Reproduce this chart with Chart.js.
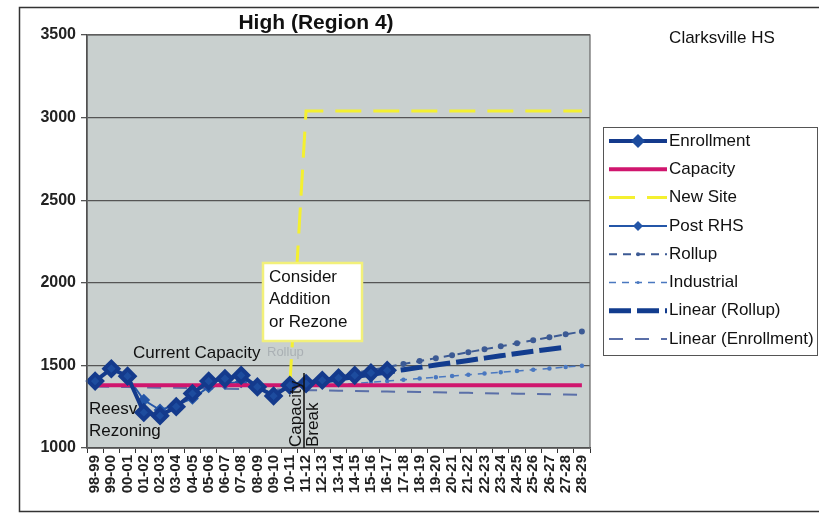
<!DOCTYPE html>
<html>
<head>
<meta charset="utf-8">
<script src="https://cdn.jsdelivr.net/npm/chart.js@4.4.0/dist/chart.umd.min.js"></script>
<style>
  html, body { margin: 0; padding: 0; background: #fff; }
  #wrap { width: 819px; height: 514px; }
</style>
</head>
<body>
<div id="wrap"><canvas id="chart" width="819" height="514"></canvas></div>
<script>
let years = ["98-99","99-00","00-01","01-02","02-03","03-04","04-05","05-06","06-07","07-08",
  "08-09","09-10","10-11","11-12","12-13","13-14","14-15","15-16","16-17","17-18",
  "18-19","19-20","20-21","21-22","22-23","23-24","24-25","25-26","26-27","27-28","28-29"];
let yTicks = [1000, 1500, 2000, 2500, 3000, 3500];

let enrollment = [1405,1480,1435,1215,1195,1250,1330,1405,1420,1440,1370,1315,1380,1390,1410,1425,1440,1455,1470,
  null,null,null,null,null,null,null,null,null,null,null,null];
let capacity = [1380,1380,1380,1380,1380,1380,1380,1380,1380,1380,1380,1380,1380,1380,1380,1380,
  1380,1380,1380,1380,1380,1380,1380,1380,1380,1380,1380,1380,1380,1380,1380];
let newSite = [null,null,null,null,null,null,null,null,null,null,null,null,1380,3040,3040,3040,
  3040,3040,3040,3040,3040,3040,3040,3040,3040,3040,3040,3040,3040,3040,3040];
let postRHS = [null,null,1430,1290,1230,1260,1300,1370,1390,1400,1360,1330,1370,1385,
  null,null,null,null,null,null,null,null,null,null,null,null,null,null,null,null,null];
let rollup = [null,null,null,null,null,null,null,null,null,null,null,null,null,1400,1418,1436,
  1454,1472,1490,1508,1526,1544,1562,1580,1598,1616,1634,1652,1670,1688,1705];
let industrial = [null,null,null,null,null,null,null,null,null,null,null,null,null,null,1375,1383,
  1390,1398,1405,1413,1420,1428,1436,1443,1451,1458,1466,1474,1481,1490,1498];
let linRollup = [null,null,null,null,null,null,null,null,null,null,null,null,1375,1390,1404,1418,
  1432,1446,1460,1474,1488,1502,1516,1530,1544,1558,1572,1586,1598,1610,null];
let linEnrollment = [1372,1370,1369,1367,1365,1364,1362,1360,1359,1357,1355,1354,1352,1350,1349,1347,
  1345,1344,1342,1340,1339,1337,1335,1334,1332,1330,1329,1327,1325,1324,1322];

const FONT = "'Liberation Sans', Arial, sans-serif";

// background of plot, frame, texts, legend
const decor = {
  id: "decor",
  beforeDraw(chart) {
    let {ctx, chartArea: a} = chart;
    ctx.save();
    ctx.fillStyle = "#fff";
    ctx.fillRect(0, 0, chart.width, chart.height);
    ctx.fillStyle = "#c9d0cf";
    ctx.fillRect(a.left, a.top, a.right - a.left, a.bottom - a.top);
    ctx.restore();
  },
  afterDraw(chart) {
    let {ctx, chartArea: a} = chart;
    ctx.save();
    // plot border
    ctx.strokeStyle = "#666";
    ctx.lineWidth = 1.2;
    ctx.strokeRect(a.left, a.top, a.right - a.left, a.bottom - a.top);
    // outer frame
    ctx.strokeStyle = "#333";
    ctx.lineWidth = 1.5;
    ctx.strokeRect(19.5, 7.5, 830, 504);

    // title
    ctx.fillStyle = "#111";
    ctx.textAlign = "center";
    ctx.textBaseline = "middle";
    ctx.font = "bold 21px " + FONT;
    ctx.fillText("High (Region 4)", 316, 23);
    ctx.font = "17px " + FONT;
    ctx.fillText("Clarksville HS", 722, 38);

    // callout box
    ctx.fillStyle = "#fff";
    ctx.fillRect(263, 263, 99, 78);
    ctx.strokeStyle = "#f2f07a";
    ctx.lineWidth = 2.5;
    ctx.strokeRect(263, 263, 99, 78);
    ctx.fillStyle = "#111";
    ctx.textAlign = "left";
    ctx.font = "17px " + FONT;
    ctx.fillText("Consider", 269, 277);
    ctx.fillText("Addition", 269, 299);
    ctx.fillText("or Rezone", 269, 322);

    // annotations
    ctx.fillText("Current Capacity", 133, 353);
    ctx.fillStyle = "#aab0b4";
    ctx.font = "13px " + FONT;
    ctx.fillText("Rollup", 267, 352);
    ctx.fillStyle = "#111";
    ctx.font = "17px " + FONT;
    ctx.fillText("Reesv", 89, 409);
    ctx.fillText("Rezoning", 89, 431);

    // capacity break marker
    ctx.strokeStyle = "#111";
    ctx.lineWidth = 1.5;
    ctx.beginPath();
    ctx.moveTo(304, 373);
    ctx.lineTo(304, 448);
    ctx.stroke();
    ctx.font = "17px " + FONT;
    ctx.save();
    ctx.translate(296, 447);
    ctx.rotate(-Math.PI / 2);
    ctx.textBaseline = "middle";
    ctx.fillText("Capacity", 0, 0);
    ctx.restore();
    ctx.save();
    ctx.translate(313, 447);
    ctx.rotate(-Math.PI / 2);
    ctx.textBaseline = "middle";
    ctx.fillText("Break", 0, 0);
    ctx.restore();

    // legend
    ctx.fillStyle = "#fff";
    ctx.fillRect(603, 127, 214, 228);
    ctx.strokeStyle = "#555";
    ctx.lineWidth = 1;
    ctx.strokeRect(603.5, 127.5, 214, 228);
    chart.data.datasets.forEach((ds, i) => {
      let y = 141 + i * 28.3;
      ctx.strokeStyle = ds.borderColor;
      ctx.lineWidth = ds.borderWidth;
      ctx.setLineDash(ds.borderDash || []);
      ctx.beginPath();
      ctx.moveTo(609, y);
      ctx.lineTo(667, y);
      ctx.stroke();
      ctx.setLineDash([]);
      if (ds.pointRadius > 0) {
        let r = ds.pointRadius;
        ctx.fillStyle = ds.pointBackgroundColor;
        ctx.beginPath();
        if (ds.pointStyle === "rectRot") {
          ctx.moveTo(638, y - r); ctx.lineTo(638 + r, y); ctx.lineTo(638, y + r); ctx.lineTo(638 - r, y);
          ctx.closePath();
        } else {
          ctx.arc(638, y, r, 0, Math.PI * 2);
        }
        ctx.fill();
      }
      ctx.fillStyle = "#111";
      ctx.font = "17px " + FONT;
      ctx.textAlign = "left";
      ctx.textBaseline = "middle";
      ctx.fillText(ds.label, 669, y);
    });
    ctx.restore();
  }
};

new Chart("chart", {
  type: "line",
  data: {
    labels: years,
    datasets: [
      { label: "Enrollment", data: enrollment, borderColor: "#143a8c", borderWidth: 4,
        pointStyle: "rectRot", pointRadius: 7, pointBackgroundColor: "#1d4c9e", pointBorderColor: "#143a8c" },
      { label: "Capacity", data: capacity, borderColor: "#d0166e", borderWidth: 4, pointRadius: 0 },
      { label: "New Site", data: newSite, borderColor: "#f4f030", borderWidth: 3, borderDash: [26, 12], pointRadius: 0 },
      { label: "Post RHS", data: postRHS, borderColor: "#2456a8", borderWidth: 2,
        pointStyle: "rectRot", pointRadius: 5, pointBackgroundColor: "#2456a8", pointBorderColor: "#2456a8" },
      { label: "Rollup", data: rollup, borderColor: "#3c5a94", borderWidth: 2, borderDash: [8, 6],
        pointStyle: "circle", pointRadius: 2, pointBackgroundColor: "#3c5a94", pointBorderColor: "#3c5a94" },
      { label: "Industrial", data: industrial, borderColor: "#4a78c0", borderWidth: 1.5, borderDash: [7, 6],
        pointStyle: "circle", pointRadius: 1.5, pointBackgroundColor: "#4a78c0", pointBorderColor: "#4a78c0" },
      { label: "Linear (Rollup)", data: linRollup, borderColor: "#123c8e", borderWidth: 5, borderDash: [22, 6], pointRadius: 0 },
      { label: "Linear (Enrollment)", data: linEnrollment, borderColor: "#5a6fa8", borderWidth: 2, borderDash: [14, 12], pointRadius: 0 }
    ]
  },
  options: {
    responsive: false,
    animation: false,
    spanGaps: false,
    layout: { padding: { left: 0, top: 35, right: 229, bottom: 6 } },
    plugins: { legend: { display: false }, title: { display: false }, tooltip: { enabled: false } },
    scales: {
      x: {
        offset: true,
        afterFit: (s) => { s.height = 60; },
        grid: { offset: true, drawOnChartArea: false, color: "#333", tickLength: 5 },
        border: { color: "#333", width: 1.5 },
        ticks: { minRotation: 90, maxRotation: 90, autoSkip: false, color: "#222",
          font: { family: FONT, size: 15, weight: "bold" }, padding: 2 }
      },
      y: {
        min: 1000, max: 3500,
        afterFit: (s) => { s.width = 87; },
        afterBuildTicks: (s) => { s.ticks = yTicks.map(v => ({ value: v })); },
        grid: { color: "#555", lineWidth: 1.3, tickLength: 6 },
        border: { color: "#333", width: 1.5 },
        ticks: { color: "#222", font: { family: FONT, size: 16, weight: "bold" }, padding: 5,
          callback: (v) => String(v) }
      }
    }
  },
  plugins: [decor]
});
</script>
</body>
</html>
